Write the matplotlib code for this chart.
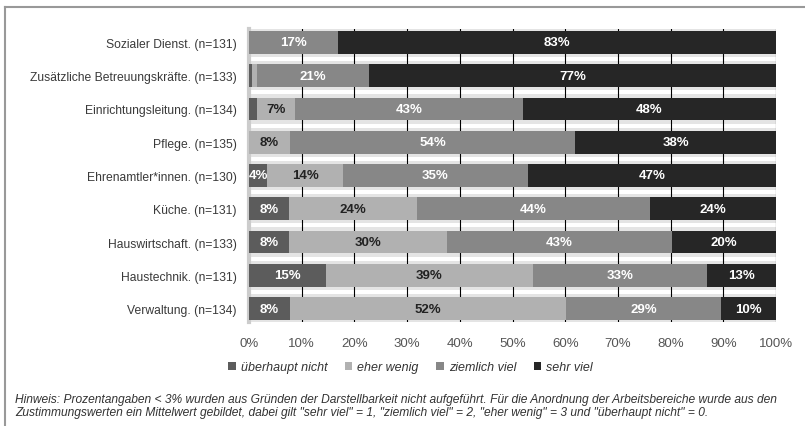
import matplotlib
matplotlib.use("Agg")
import matplotlib.pyplot as plt
import numpy as np

plt.rcParams["font.family"] = ["Liberation Sans", "DejaVu Sans"]

bereiche = ["Sozialer Dienst. (n=131)", "Zusätzliche Betreuungskräfte. (n=133)",
            "Einrichtungsleitung. (n=134)", "Pflege. (n=135)", "Ehrenamtler*innen. (n=130)",
            "Küche. (n=131)", "Hauswirtschaft. (n=133)", "Haustechnik. (n=131)",
            "Verwaltung. (n=134)"]
kategorien = ["überhaupt nicht", "eher wenig", "ziemlich viel", "sehr viel"]
ueberhaupt_nicht = [0.0, 0.5, 1.5, 0.0, 3.5, 7.6, 7.6, 14.6, 7.8]
eher_wenig = [0.0, 1.1, 7.3, 7.8, 14.3, 24.2, 29.9, 39.2, 52.4]
ziemlich_viel = [16.8, 21.1, 43.1, 54.1, 35.1, 44.2, 42.7, 33.2, 29.4]
sehr_viel = [83.2, 77.3, 48.1, 38.1, 47.1, 24.0, 19.8, 13.0, 10.4]
xticks = [0, 10, 20, 30, 40, 50, 60, 70, 80, 90, 100]

farben = ["#5c5c5c", "#b1b1b1", "#878787", "#262626"]
textfarben = ["white", "#222222", "white", "white"]

fig = plt.figure(figsize=(8.05, 4.27), dpi=100)
ax = fig.add_axes([249/805, 1-323/427, 527/805, 293/427])
ax.set_facecolor("#e4e4e4")

y = np.arange(len(bereiche))
n = len(bereiche)
# white stripes in the middle of the gaps
for g in np.arange(-0.5, n, 1.0):
    ax.axhspan(g - 0.06, g + 0.06, color="white", zorder=0.5, lw=0)
for t in xticks[1:]:
    ax.axvline(t, color="black", lw=0.8, zorder=1)

links = np.zeros(n)
handles = []
for werte, farbe, tf, name in zip([ueberhaupt_nicht, eher_wenig, ziemlich_viel, sehr_viel],
                                   farben, textfarben, kategorien):
    werte = np.array(werte)
    b = ax.barh(y, werte, left=links, height=0.68, color=farbe, zorder=3, label=name)
    handles.append(b)
    for yi, l, w in zip(y, links, werte):
        if w >= 3:
            ax.text(l + w / 2, yi, f"{int(round(w))}%", ha="center", va="center",
                    color=tf, fontsize=9.5, fontweight="bold", zorder=4)
    links += werte

ax.set_xlim(0, 100)
ax.set_ylim(n - 1 + 0.4, -0.4)
ax.set_yticks(y)
ax.set_yticklabels(bereiche, fontsize=8.7, color="#3a3a3a")
ax.set_xticks(xticks)
ax.set_xticklabels([f"{t}%" for t in xticks], fontsize=9.5, color="#555555")
ax.tick_params(axis="both", length=0)
ax.tick_params(axis="x", pad=11)
ax.tick_params(axis="y", pad=9)
for s in ["top", "right", "bottom"]:
    ax.spines[s].set_visible(False)
ax.spines["left"].set_color("#cccccc")
ax.spines["left"].set_linewidth(3)

fig.legend(handles=handles, loc="center left", bbox_to_anchor=(217/805, 1-368/427),
           ncol=4, frameon=False, handlelength=0.6, handleheight=0.6,
           handletextpad=0.4, columnspacing=1.4,
           prop={"style": "italic", "size": 9}, labelcolor="#333333")

fig.text(15/805, 1-400/427,
         "Hinweis: Prozentangaben < 3% wurden aus Gründen der Darstellbarkeit nicht aufgeführt. "
         "Für die Anordnung der Arbeitsbereiche wurde aus den",
         fontsize=8.65, style="italic", color="#333333", va="center")
fig.text(15/805, 1-413/427,
         "Zustimmungswerten ein Mittelwert gebildet, dabei gilt \"sehr viel\" = 1, "
         "\"ziemlich viel\" = 2, \"eher wenig\" = 3 und \"überhaupt nicht\" = 0.",
         fontsize=8.65, style="italic", color="#333333", va="center")

# outer frame (top and left)
fig.add_artist(plt.Line2D([5/805, 1], [1-8/427, 1-8/427], color="#999999", lw=1.5))
fig.add_artist(plt.Line2D([5/805, 5/805], [0, 1-8/427], color="#999999", lw=1.5))

fig.savefig("out.png", dpi=100, facecolor="white")
